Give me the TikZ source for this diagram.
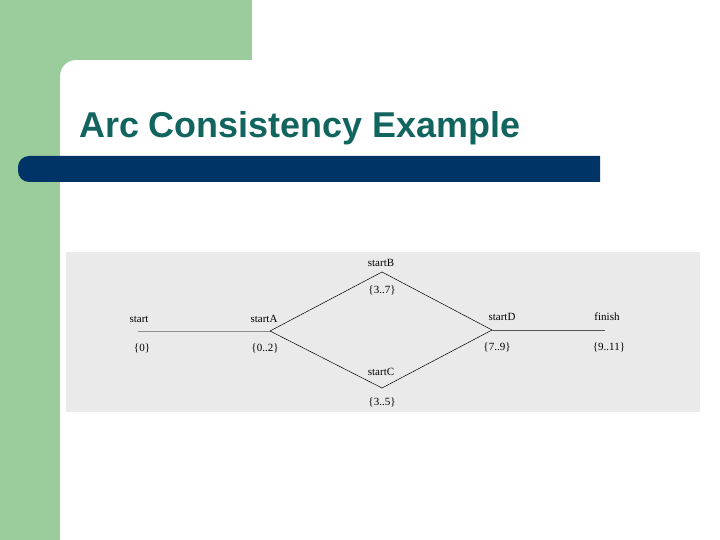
\documentclass[tikz,border=0pt]{standalone}
\usepackage{fontspec}
\usepackage{tikz}
\usetikzlibrary{positioning}
\newfontfamily\titlefont{Liberation Sans}
\newfontfamily\scanfont{Liberation Serif}
\definecolor{slidegreen}{RGB}{155,204,155}
\definecolor{slideblue}{RGB}{0,51,102}
\definecolor{titleteal}{RGB}{18,100,95}
\definecolor{scangray}{RGB}{234,234,234}

\begin{document}
\begin{tikzpicture}[x=1pt,y=1pt]
		\tikzstyle{every node}+=[inner sep=0pt]
		\tikzstyle{lbl}=[font=\scanfont\fontsize{11}{13}\selectfont]
		\useasboundingbox (0,0) rectangle (720,-540);
		\fill [white] (0,0) rectangle (720,-540);
		% slide frame
		\fill [slidegreen] (0,0) rectangle (252,-60);
		\fill [slidegreen] (0,0) rectangle (60,-540);
		\fill [slidegreen] (60,-60) -- (76,-60) arc (90:180:16) -- cycle;
		\fill [slideblue] (600,-156) [rounded corners=11] -- (18,-156) -- (18,-182) [sharp corners] -- (600,-182) -- cycle;
		\node [anchor=base west, text=titleteal, font=\titlefont\bfseries\fontsize{35.9}{40}\selectfont] (title) at (79,-138) {Arc Consistency Example};
		% scanned figure
		\fill [scangray] (66,-252) rectangle (700,-412);
		\coordinate (s) at (138,-331);
		\coordinate (a) at (270,-331);
		\coordinate (b) at (382,-272);
		\coordinate (c) at (382,-388);
		\coordinate (d) at (492,-330);
		\coordinate (f) at (605,-330);
		\draw [black!45, line width=0.6pt] (s) -- (a);
		\draw [black, line width=0.5pt] (a) -- (b) -- (d);
		\draw [black, line width=0.5pt] (a) -- (c) -- (d);
		\draw [black!65, line width=1pt] (d) -- (f);
		\node [lbl] (sName) at (139,-319) {start};
		\node [lbl] (sDom) at (142,-348) {\{0\}};
		\node [lbl] (aName) at (264,-319) {startA};
		\node [lbl] (aDom) at (265,-348) {\{0..2\}};
		\node [lbl] (bName) at (381,-263) {startB};
		\node [lbl] (bDom) at (382,-290) {\{3..7\}};
		\node [lbl] (cName) at (381,-372) {startC};
		\node [lbl] (cDom) at (382,-402) {\{3..5\}};
		\node [lbl] (dName) at (502,-317) {startD};
		\node [lbl] (dDom) at (497,-347) {\{7..9\}};
		\node [lbl] (fName) at (607,-317) {finish};
		\node [lbl] (fDom) at (609,-347) {\{9..11\}};
\end{tikzpicture}
\end{document}
